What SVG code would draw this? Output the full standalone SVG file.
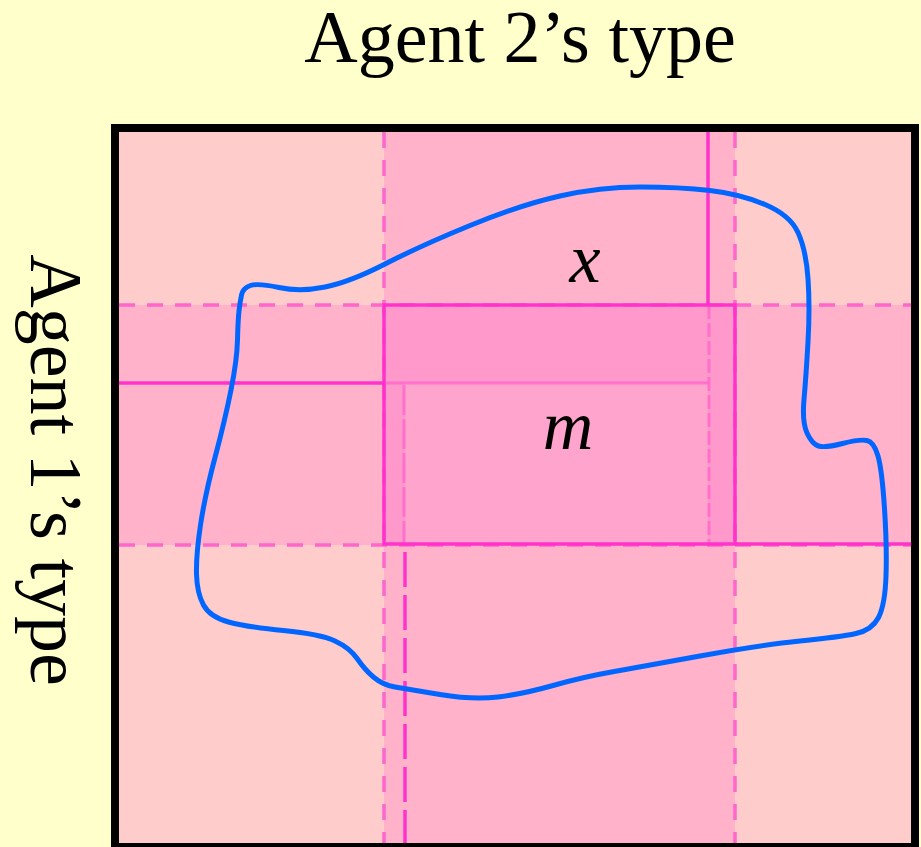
<svg xmlns="http://www.w3.org/2000/svg" width="921" height="847" viewBox="0 0 921 847">
<style>
.dash{stroke:#FF66CC;stroke-width:3.5;stroke-dasharray:16 12;fill:none}
.solid{stroke:#FF33CC;stroke-width:3.5;fill:none}
.pale{stroke:#FF55CC;stroke-width:3;fill:none;opacity:0.6}
.lbl{font-family:"Liberation Serif","Times New Roman",serif;fill:#000}
</style>
<rect x="0" y="0" width="921" height="847" fill="#FFFFCC"/>
<g id="plane">
<rect x="115" y="128" width="800" height="719" fill="#FFCCCC"/>
<rect x="384" y="132" width="351" height="715" fill="#FFB2CA"/>
<rect x="119" y="305" width="796" height="240" fill="#FFB2CA"/>
<rect x="384" y="305" width="351" height="240" fill="#FF99CC"/>
<rect x="405" y="383" width="303" height="162" fill="#FFA4CC"/>
</g>
<g id="lines">
<line class="dash" x1="384" y1="132" x2="384" y2="845"/>
<line class="dash" x1="735" y1="132" x2="735" y2="845"/>
<line class="dash" x1="119" y1="305" x2="913" y2="305"/>
<line class="dash" x1="119" y1="545" x2="913" y2="545"/>
<line class="solid" x1="708" y1="132" x2="708" y2="305"/>
<line class="solid" x1="119" y1="383" x2="384" y2="383"/>
<line class="solid" x1="735" y1="544" x2="913" y2="544"/>
<line class="solid" x1="405" y1="552" x2="405" y2="845" stroke-dasharray="35 8"/>
<line class="pale" x1="384" y1="383" x2="708" y2="383"/>
<line class="pale" x1="709" y1="305" x2="709" y2="545" stroke-dasharray="14 4"/>
<line class="pale" x1="404" y1="385" x2="404" y2="545" stroke-dasharray="30 4"/>
<rect class="solid" x="384" y="305" width="351" height="239"/>
</g>
<rect id="frame" x="115" y="128" width="800" height="719" fill="none" stroke="#000" stroke-width="8"/>
<path id="region" d="M 241.5,295 Q 243,288 250.5,285.5 Q 258,283 279,287.5 Q 300,292 325,287 Q 350,282 385,264 Q 420,246 470,225.5 Q 520,205 560,196 Q 600,187 640,187 Q 680,187 710,190.5 Q 740,194 765,204.5 Q 790,215 798,232.5 Q 806,250 808,278.5 Q 810,307 808,342 Q 806,377 804,399.5 Q 802,422 807,433 Q 812,444 818.5,446 Q 825,448 842.5,443.5 Q 860,439 867,440.5 Q 874,442 878,456 Q 882,470 884.5,508.5 Q 887,547 886,576 Q 885,605 878.5,617.5 Q 872,630 856,633.5 Q 840,637 800,641 Q 760,645 700,656 Q 640,667 611.5,672 Q 583,677 553,685.5 Q 523,694 498,697 Q 473,700 440,694.5 Q 407,689 395,687 Q 383,685 374,677.5 Q 365,670 357.5,659 Q 350,648 335,641 Q 320,634 283.5,630.5 Q 247,627 228.5,622 Q 210,617 203.5,605 Q 197,593 196.5,574 Q 196,555 200.5,525 Q 205,495 215,457.5 Q 225,420 231,390 Q 237,360 237.5,340 Q 238,320 239,311 Q 240,302 241.5,295 Z" fill="none" stroke="#0066FF" stroke-width="5" stroke-linejoin="round"/>
<g id="labels">
<text class="lbl" x="520" y="62" font-size="74" text-anchor="middle">Agent 2’s type</text>
<text class="lbl" font-size="74" text-anchor="middle" transform="translate(31,470) rotate(90)">Agent 1’s type</text>
<text class="lbl" x="585" y="282" font-size="70" font-style="italic" text-anchor="middle">x</text>
<text class="lbl" x="568" y="449" font-size="70" font-style="italic" text-anchor="middle">m</text>
</g>
</svg>
